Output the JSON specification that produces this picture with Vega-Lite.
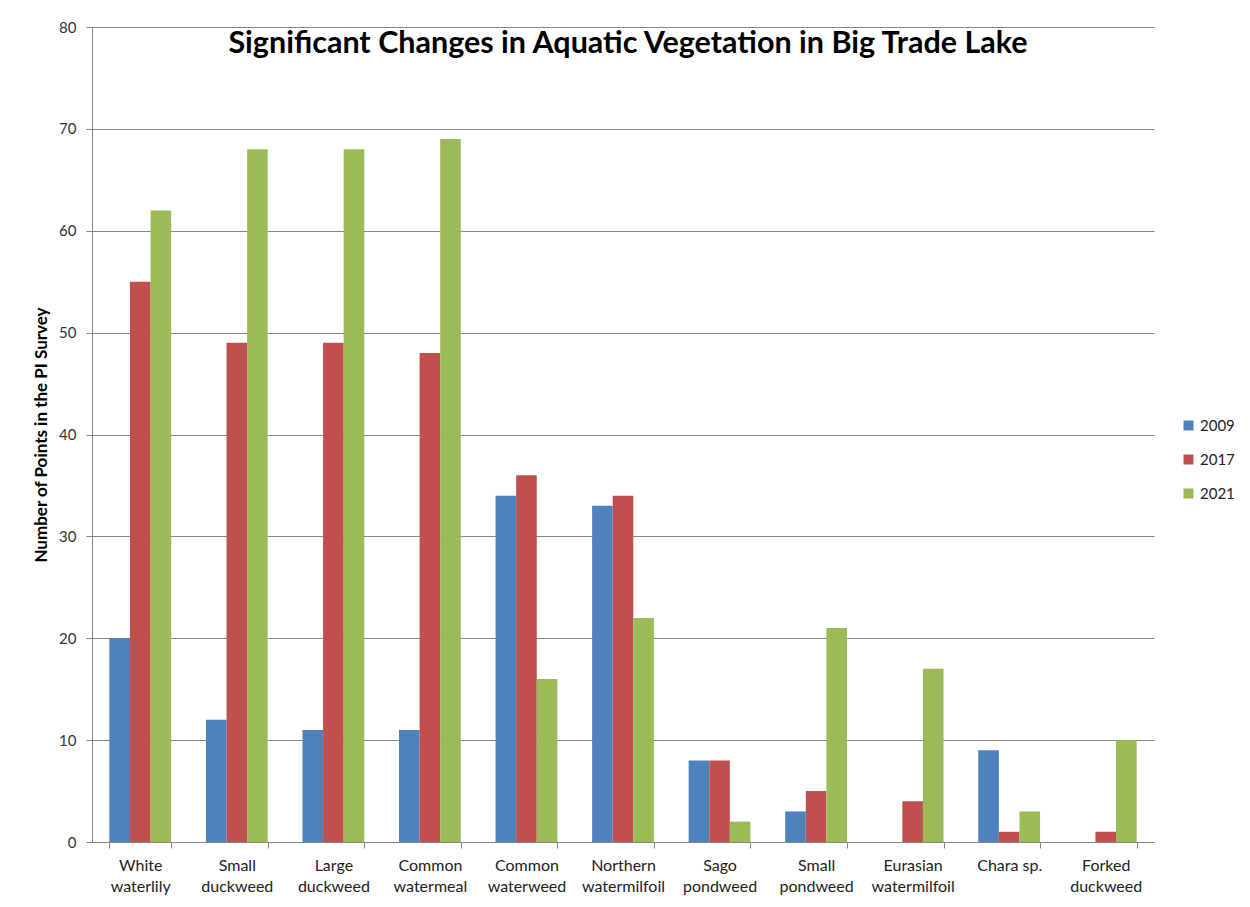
{
  "$schema": "https://vega.github.io/schema/vega-lite/v6.json",
  "width": 1062,
  "height": 815,
  "autosize": {"type": "none"},
  "padding": {"left": 92, "top": 27, "right": 96, "bottom": 65},
  "background": "white",
  "config": {"view": {"stroke": null}, "font": "Lato"},
  "title": {
    "text": "Significant Changes in Aquatic Vegetation in Big Trade Lake",
    "font": "Lato",
    "fontSize": 30.5,
    "fontWeight": "bold",
    "color": "#000000",
    "anchor": "middle",
    "baseline": "alphabetic",
    "offset": -25,
    "dy": 38,
    "dx": 5
  },
  "data": {
    "values": [
      {"species": "White waterlily", "year": "2009", "points": 20},
      {"species": "White waterlily", "year": "2017", "points": 55},
      {"species": "White waterlily", "year": "2021", "points": 62},
      {"species": "Small duckweed", "year": "2009", "points": 12},
      {"species": "Small duckweed", "year": "2017", "points": 49},
      {"species": "Small duckweed", "year": "2021", "points": 68},
      {"species": "Large duckweed", "year": "2009", "points": 11},
      {"species": "Large duckweed", "year": "2017", "points": 49},
      {"species": "Large duckweed", "year": "2021", "points": 68},
      {"species": "Common watermeal", "year": "2009", "points": 11},
      {"species": "Common watermeal", "year": "2017", "points": 48},
      {"species": "Common watermeal", "year": "2021", "points": 69},
      {"species": "Common waterweed", "year": "2009", "points": 34},
      {"species": "Common waterweed", "year": "2017", "points": 36},
      {"species": "Common waterweed", "year": "2021", "points": 16},
      {"species": "Northern watermilfoil", "year": "2009", "points": 33},
      {"species": "Northern watermilfoil", "year": "2017", "points": 34},
      {"species": "Northern watermilfoil", "year": "2021", "points": 22},
      {"species": "Sago pondweed", "year": "2009", "points": 8},
      {"species": "Sago pondweed", "year": "2017", "points": 8},
      {"species": "Sago pondweed", "year": "2021", "points": 2},
      {"species": "Small pondweed", "year": "2009", "points": 3},
      {"species": "Small pondweed", "year": "2017", "points": 5},
      {"species": "Small pondweed", "year": "2021", "points": 21},
      {"species": "Eurasian watermilfoil", "year": "2009", "points": 0},
      {"species": "Eurasian watermilfoil", "year": "2017", "points": 4},
      {"species": "Eurasian watermilfoil", "year": "2021", "points": 17},
      {"species": "Chara sp.", "year": "2009", "points": 9},
      {"species": "Chara sp.", "year": "2017", "points": 1},
      {"species": "Chara sp.", "year": "2021", "points": 3},
      {"species": "Forked duckweed", "year": "2009", "points": 0},
      {"species": "Forked duckweed", "year": "2017", "points": 1},
      {"species": "Forked duckweed", "year": "2021", "points": 10}
    ]
  },
  "mark": {"type": "bar"},
  "encoding": {
    "x": {
      "field": "species",
      "type": "nominal",
      "sort": null,
      "scale": {"paddingInner": 0.36, "paddingOuter": 0.18},
      "axis": {
        "title": null,
        "labelAngle": 0,
        "labelExpr": "!isValid(datum.value) ? '' : (datum.value == 'Chara sp.' ? 'Chara sp.' : split(datum.value, ' '))",
        "labelFont": "Lato",
        "labelFontSize": 16,
        "labelColor": "#222222",
        "labelLineHeight": 21,
        "labelPadding": 9,
        "labelBaseline": "top",
        "tickBand": "extent",
        "tickSize": 6,
        "tickColor": "#868686",
        "domainColor": "#868686",
        "grid": false
      }
    },
    "xOffset": {
      "field": "year",
      "type": "nominal",
      "sort": ["2009", "2017", "2021"],
      "scale": {"paddingInner": 0, "paddingOuter": 0}
    },
    "y": {
      "field": "points",
      "type": "quantitative",
      "scale": {"domain": [0, 80], "nice": false},
      "axis": {
        "title": "Number of Points in the PI Survey",
        "titleFont": "Lato",
        "titleFontSize": 17,
        "titleFontWeight": "bold",
        "titleColor": "#000000",
        "titlePadding": 8,
        "values": [0, 10, 20, 30, 40, 50, 60, 70, 80],
        "labelFont": "Lato",
        "labelFontSize": 15,
        "labelColor": "#333333",
        "labelPadding": 10,
        "tickSize": 6,
        "tickColor": "#868686",
        "domainColor": "#868686",
        "gridColor": "#868686",
        "gridWidth": 1
      }
    },
    "color": {
      "field": "year",
      "type": "nominal",
      "scale": {"domain": ["2009", "2017", "2021"], "range": ["#4F81BD", "#C0504D", "#9BBB59"]},
      "legend": {
        "title": null,
        "orient": "none",
        "legendX": 1089,
        "legendY": 391,
        "symbolType": "square",
        "symbolSize": 100,
        "symbolStrokeWidth": 0,
        "labelFont": "Lato",
        "labelFontSize": 15,
        "labelColor": "#222222",
        "rowPadding": 18,
        "labelOffset": 4
      }
    }
  }
}
